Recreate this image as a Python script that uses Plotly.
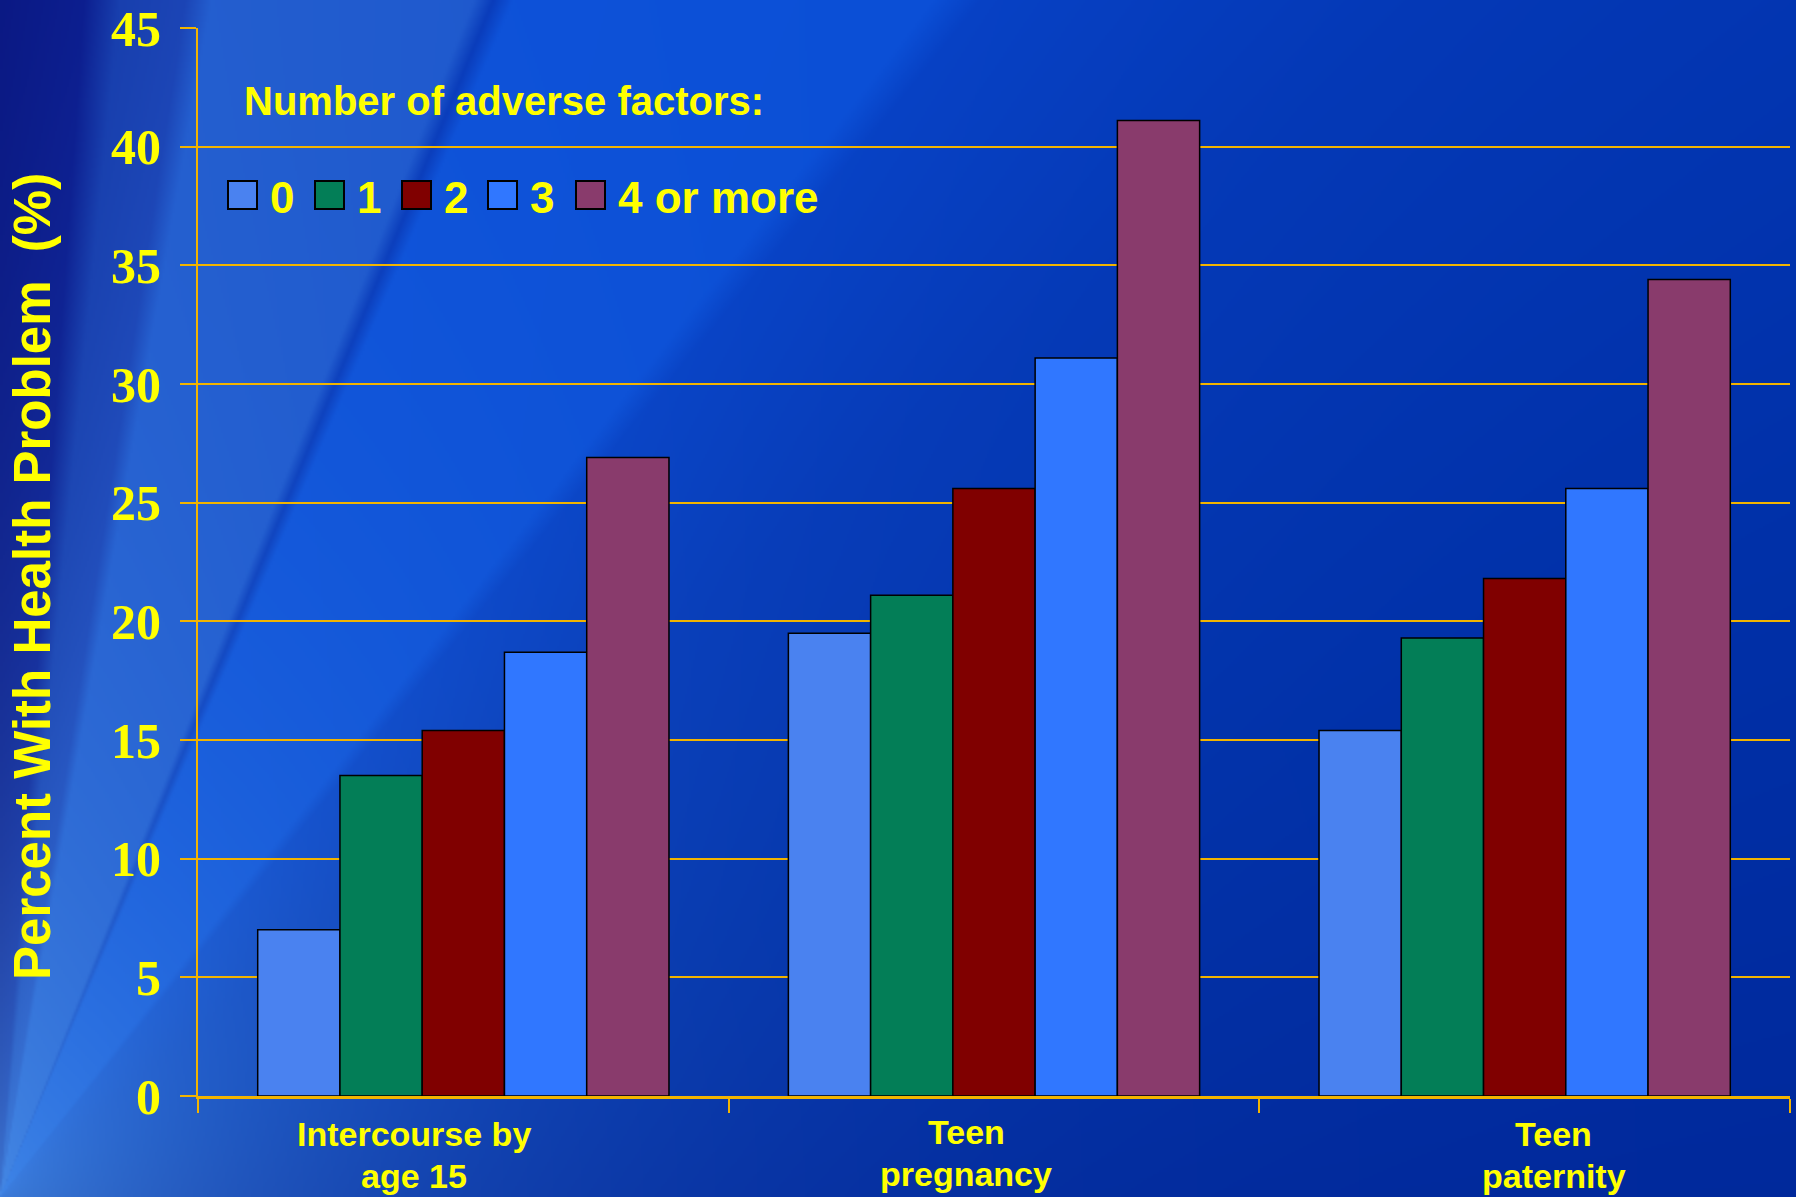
import numpy as np
import zlib, struct, base64
import plotly.graph_objects as go

# ---------------- data ----------------
categories = ["Intercourse by<br>age 15", "Teen<br>pregnancy", "Teen<br>paternity"]
series_names = ["0", "1", "2", "3", "4 or more"]
values_0 = [7.0, 19.5, 15.4]
values_1 = [13.5, 21.1, 19.3]
values_2 = [15.4, 25.6, 21.8]
values_3 = [18.7, 31.1, 25.6]
values_4 = [26.9, 41.1, 34.4]
series_values = [values_0, values_1, values_2, values_3, values_4]
series_colors = ["#4A82F0", "#037E57", "#800000", "#3077FF", "#893B6C"]
y_ticks = [0, 5, 10, 15, 20, 25, 30, 35, 40, 45]
y_title = "Percent With Health Problem  (%)"
legend_title = "Number of adverse factors:"

# ---------------- geometry ----------------
W, H = 1796, 1197
ML, MR, MT, MB = 198, 6, 28, 101
PW, PH = W - ML - MR, H - MT - MB
YEL = "#FFFF00"
GRID = "#F2B400"


def px_x(p):
    return (p - ML) / PW


def px_y(p):
    return (H - MB - p) / PH


# ---------------- background image (decorative) ----------------
def make_bg():
    w, h = W // 2, H // 2
    ys, xs = np.mgrid[0:h, 0:w]
    X = (xs + 0.5) * W / w
    Y = (ys + 0.5) * H / h
    dx = X
    dy = H - Y
    th = np.degrees(np.arctan2(dy, dx))
    r = np.hypot(dx, dy)
    stops = [
        (0, (0, 40, 155)),
        (20, (0, 48, 168)),
        (40, (4, 56, 182)),
        (50.6, (6, 64, 196)),
        (52.0, (10, 78, 214)),
        (66.8, (12, 80, 216)),
        (67.6, (8, 58, 186)),
        (68.4, (30, 88, 205)),
        (80.0, (34, 92, 206)),
        (81.2, (26, 66, 180)),
        (84.3, (22, 60, 172)),
        (86.0, (10, 26, 140)),
        (90.1, (8, 20, 128)),
    ]
    a = np.array([s[0] for s in stops])
    img = np.zeros((h, w, 3))
    for c in range(3):
        img[..., c] = np.interp(th, a, [s[1][c] for s in stops])
    light = np.array([80, 150, 235])
    f = (0.75 * np.exp(-r / 400.0))[..., None]
    img = img * (1 - f) + light * f
    img = np.clip(img, 0, 255).astype(np.uint8)
    raw = b"".join(b"\x00" + img[i].tobytes() for i in range(h))

    def chunk(t, d):
        c = struct.pack(">I", len(d)) + t + d
        return c + struct.pack(">I", zlib.crc32(t + d) & 0xFFFFFFFF)

    png = b"\x89PNG\r\n\x1a\n" + chunk(b"IHDR", struct.pack(">IIBBBBB", w, h, 8, 2, 0, 0, 0)) \
        + chunk(b"IDAT", zlib.compress(raw, 9)) + chunk(b"IEND", b"")
    return "data:image/png;base64," + base64.b64encode(png).decode()


fig = go.Figure()
for name, vals, col in zip(series_names, series_values, series_colors):
    fig.add_trace(go.Bar(
        x=categories, y=vals, name=name,
        marker=dict(color=col, line=dict(color="#000000", width=1.5)),
        showlegend=False,
    ))

annotations = []
shapes = []

# y-axis title
annotations.append(dict(
    text=y_title, xref="paper", yref="paper", x=px_x(32), y=px_y(577),
    xanchor="center", yanchor="middle", textangle=-90, showarrow=False,
    font=dict(family="Liberation Sans", size=51, color=YEL, weight="bold"),
))

# custom legend
annotations.append(dict(
    text=legend_title, xref="paper", yref="paper", x=px_x(242), y=px_y(101),
    xanchor="left", yanchor="middle", showarrow=False,
    font=dict(family="Liberation Sans", size=40, color=YEL, weight="bold"),
))
leg_x = [228, 315, 402, 488, 576]
for lx, name, col in zip(leg_x, series_names, series_colors):
    shapes.append(dict(
        type="rect", xref="paper", yref="paper",
        x0=px_x(lx), x1=px_x(lx + 29), y0=px_y(209), y1=px_y(181),
        fillcolor=col, line=dict(color="#000000", width=2), layer="above",
    ))
    annotations.append(dict(
        text=name, xref="paper", yref="paper", x=px_x(lx + 40), y=px_y(197),
        xanchor="left", yanchor="middle", showarrow=False,
        font=dict(family="Liberation Sans", size=44, color=YEL, weight="bold"),
    ))

# category labels
cat_xshift = [-49, -28, 29]
cat_yshift = [(-38, -80), (-36, -78), (-38, -80)]
for cat, xs_, (y1, y2) in zip(categories, cat_xshift, cat_yshift):
    for line, ysh in zip(cat.split("<br>"), (y1, y2)):
        annotations.append(dict(
            text=line, xref="x", yref="paper", x=cat, y=0, xshift=xs_, yshift=ysh,
            xanchor="center", yanchor="middle", showarrow=False,
            font=dict(family="Liberation Sans", size=34, color=YEL, weight="bold"),
        ))

fig.update_layout(
    width=W, height=H,
    margin=dict(l=ML, r=MR, t=MT, b=MB, pad=0, autoexpand=False),
    paper_bgcolor="#0538B0",
    plot_bgcolor="rgba(0,0,0,0)",
    barmode="group", bargap=0.225, bargroupgap=0,
    showlegend=False,
    annotations=annotations,
    shapes=shapes,
    images=[dict(
        source=make_bg(), xref="paper", yref="paper",
        x=-ML / PW, y=1 + MT / PH, sizex=W / PW, sizey=H / PH,
        xanchor="left", yanchor="top", sizing="stretch", layer="below",
    )],
    xaxis=dict(
        type="category", showticklabels=False, showgrid=False, automargin=False,
        showline=True, linecolor=GRID, linewidth=3,
        ticks="outside", tickson="boundaries", ticklen=14, tickcolor=GRID, tickwidth=2,
        zeroline=False,
    ),
    yaxis=dict(
        range=[0, 45], tickvals=y_ticks, ticktext=[str(t) for t in y_ticks],
        showgrid=True, gridcolor=GRID, gridwidth=2, automargin=False,
        showline=True, linecolor=GRID, linewidth=2,
        ticks="outside", ticklen=16, tickcolor=GRID, tickwidth=2,
        ticklabelstandoff=9, zeroline=False,
        tickfont=dict(family="Liberation Serif", size=50, color=YEL, weight="bold"),
    ),
)

fig.write_html("out.html", config={"responsive": False, "displayModeBar": False},
               post_script="document.body.style.margin='0';document.body.style.overflow='hidden';")
